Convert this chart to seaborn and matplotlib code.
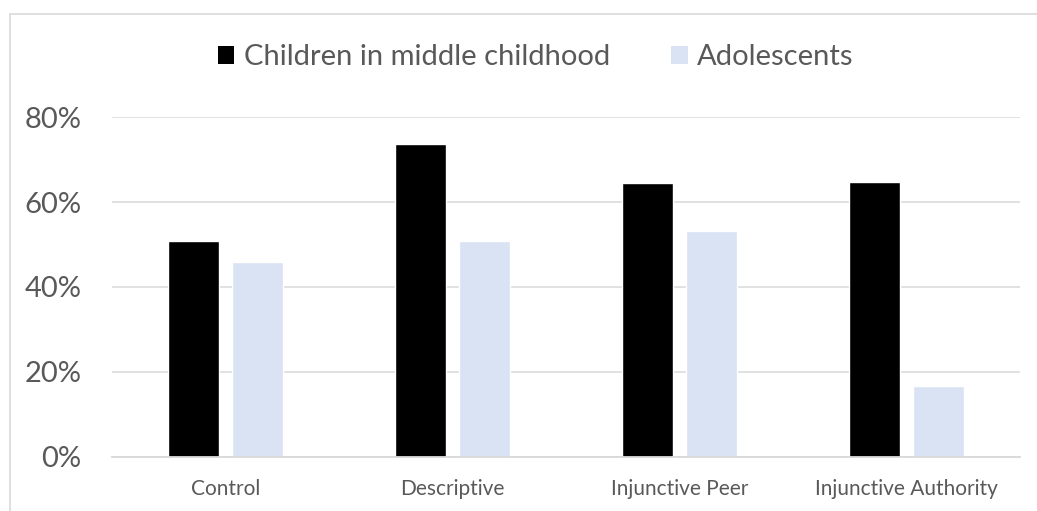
import pandas as pd
import matplotlib
matplotlib.use("Agg")
import matplotlib.pyplot as plt
import seaborn as sns
from matplotlib.patches import Rectangle, Patch
from matplotlib.ticker import FuncFormatter

# values (percent)
conditions = ["Control", "Descriptive", "Injunctive Peer", "Injunctive Authority"]
children = [50.8, 73.7, 64.5, 64.7]
adolescents = [45.8, 50.9, 53.2, 16.7]
groups = ["Children in middle childhood", "Adolescents"]
colors = ["#000000", "#DAE3F3"]
y_ticks = [0, 20, 40, 60, 80]

df = pd.DataFrame({"Condition": conditions, groups[0]: children, groups[1]: adolescents})
long_df = df.melt(id_vars="Condition", var_name="Group", value_name="Percent")

sns.set_style("white")
plt.rcParams["font.family"] = ["Lato", "DejaVu Sans"]
text_color = "#595959"
grid_color = "#D9D9D9"

fig = plt.figure(figsize=(10.37, 5.11), dpi=100)
ax = fig.add_axes([0.108, 0.1063, 0.8756, 0.6642])

sns.barplot(data=long_df, x="Condition", y="Percent", hue="Group",
            palette=colors, saturation=1, width=0.569, gap=0.21, ax=ax, legend=False)

ax.set_ylim(0, 80)
ax.set_yticks(y_ticks)
ax.yaxis.set_major_formatter(FuncFormatter(lambda v, p: f"{v:.0f}%"))
ax.grid(axis="y", color=grid_color, linewidth=1.1)
ax.set_axisbelow(True)
for s in ["top", "right", "left"]:
    ax.spines[s].set_visible(False)
ax.spines["bottom"].set_color(grid_color)
ax.spines["bottom"].set_linewidth(1.3)
ax.tick_params(axis="y", length=0, pad=22, labelsize=21, labelcolor=text_color)
ax.tick_params(axis="x", length=0, pad=16, labelsize=15, labelcolor=text_color)
ax.set_xlabel("")
ax.set_ylabel("")

# chart border (top and left edges visible in the crop)
fig.patches.append(Rectangle((9.5 / 1037, -0.2), 1.5, 1.2 - 14.3 / 511,
                             transform=fig.transFigure, fill=False,
                             edgecolor=grid_color, linewidth=1.2))

handles = [Patch(facecolor=c, edgecolor="none") for c in colors]
fig.legend(handles, groups, loc="center", bbox_to_anchor=(535.5 / 1037, 1 - 57 / 511),
           ncol=2, frameon=False, fontsize=21, labelcolor=text_color,
           handlelength=0.58, handleheight=0.58, handletextpad=0.31,
           columnspacing=2.1)

fig.savefig("out.png", dpi=100)
